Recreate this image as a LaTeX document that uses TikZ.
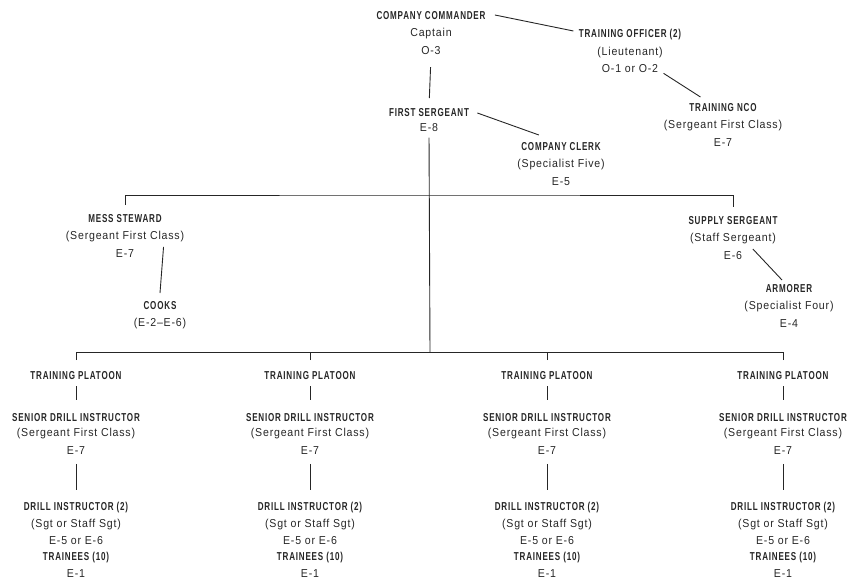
\documentclass[tikz,border=0pt]{standalone}
\usepackage{fontspec}
\setmainfont{Liberation Sans}
\newfontfamily\headfont[FakeStretch=0.70,LetterSpace=7]{Liberation Sans Bold}
\newfontfamily\bodyfont[FakeStretch=0.92,LetterSpace=7]{Liberation Sans}
\usepackage{tikz}
\newcommand{\hd}[1]{{\headfont #1}}

\begin{document}
\begin{tikzpicture}
[x=1pt,y=-1pt,line width=0.9pt]
\tikzset{
	post/.style = {anchor=north, align=center, inner sep=1pt, text=black!85,
		font=\bodyfont\fontsize{11.5}{17.5}\selectfont},
	link/.style = {draw=black!85}
}
\useasboundingbox (0,0) rectangle (855,586);

\node(cc) [post] at (431,10) {\hd{COMPANY COMMANDER}\\Captain\\O-3};
\node(to) [post] at (630,28) {\hd{TRAINING OFFICER (2)}\\(Lieutenant)\\O-1 or O-2};
\node(nco) [post] at (723,102) {\hd{TRAINING NCO}\\(Sergeant First Class)\\E-7};
\node(fs) [post] at (429,107) {\hd{FIRST SERGEANT}\\[-2pt]E-8};
\node(clerk) [post] at (561,141) {\hd{COMPANY CLERK}\\(Specialist Five)\\E-5};
\node(ms) [post] at (125,213) {\hd{MESS STEWARD}\\(Sergeant First Class)\\E-7};
\node(cooks) [post] at (160,300) {\hd{COOKS}\\(E-2–E-6)};
\node(ss) [post] at (733,215) {\hd{SUPPLY SERGEANT}\\(Staff Sergeant)\\E-6};
\node(arm) [post] at (789,283) {\hd{ARMORER}\\(Specialist Four)\\E-4};

\coordinate (split) at (430,195);
\coordinate (pbus) at (430,352);

\draw [link] ([shift={(8,5)}]cc.north east) -- ([shift={(-4,3)}]to.north west);
\draw [link] ([shift={(-19,-1)}]to.south east) -- ([shift={(38,-5)}]nco.north west);
\draw [link,shorten <=11pt,shorten >=9pt] (cc.south) -- (fs.north);
\draw [link] ([shift={(7,6)}]fs.north east) -- ([shift={(23,-6)}]clerk.north west);
\draw [link,shorten <=4pt] (fs.south) -- (pbus);
\draw [link] ([shift={(0,-8)}]ms.north) |- (split) -| ([shift={(0,-8)}]ss.north);
\draw [link] ([shift={(-22,-12)}]ms.south east) -- ([shift={(0,-7)}]cooks.north);
\draw [link] ([shift={(-26,-12)}]ss.south east) -- ([shift={(-7,-3)}]arm.north);

\foreach \i/\x in {1/76,2/310,3/547,4/783}{
	\node(p\i) [post] at (\x,370) {\hd{TRAINING PLATOON}};
	\node(sdi\i) [post] at (\x,412) {\hd{SENIOR DRILL INSTRUCTOR}\\[-2pt](Sergeant First Class)\\E-7};
	\node(di\i) [post] at (\x,501) {\hd{DRILL INSTRUCTOR (2)}\\[-1pt](Sgt or Staff Sgt)\\E-5 or E-6\\[-2pt]\hd{TRAINEES (10)}\\E-1};
	\draw [link,shorten <=5pt,shorten >=12pt] (p\i.south) -- (sdi\i.north);
	\draw [link,shorten <=8pt,shorten >=11pt] (sdi\i.south) -- (di\i.north);
	\draw [link] ([shift={(0,-10)}]p\i.north) -- (p\i.north |- pbus);
}
\draw [link] (p1.north |- pbus) -- (p4.north |- pbus);
\end{tikzpicture}
\end{document}
